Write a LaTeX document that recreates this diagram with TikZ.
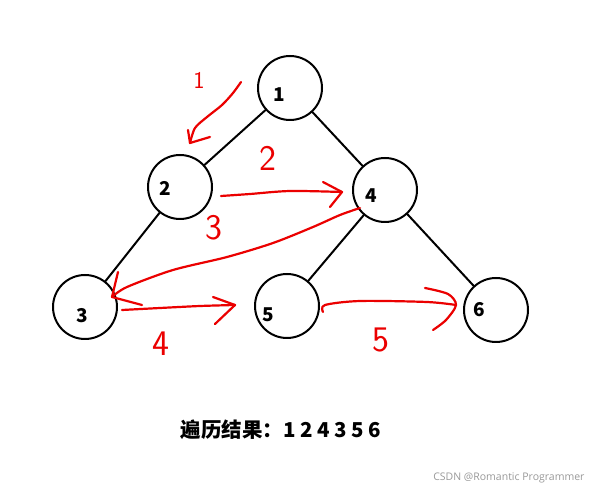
\documentclass[tikz,border=0pt]{standalone}
\usepackage{fontspec}
\newfontfamily\cjk{Noto Sans CJK SC}
\newfontfamily\wmfont{Open Sans}
\begin{document}
\begin{tikzpicture}[x=1pt,y=-1pt,line join=round,line cap=round]
  \tikzset{vertex/.style={draw, circle, line width=2pt, minimum size=64pt, inner sep=0pt},
           num/.style={font=\cjk\bfseries\fontsize{19}{19}\selectfont},
           redpen/.style={draw=red!92!black, line width=2.2pt},
           step label/.style={text=red!92!black, font=\sffamily\fontsize{36}{36}\selectfont}}
  \useasboundingbox[fill=white] (0,0) rectangle (603,494);
  % tree
  \node[vertex] (n1) at (290,88) {};
  \node[vertex] (n2) at (180,187) {};
  \node[vertex] (n4) at (385,190) {};
  \node[vertex] (n3) at (85,307) {};
  \node[vertex] (n5) at (287,306) {};
  \node[vertex] (n6) at (496,310) {};
  \node[num] (t1) at (279,95) {1};
  \node[num] (t2) at (165,188) {2};
  \node[num] (t4) at (371,196) {4};
  \node[num] (t3) at (82,316) {3};
  \node[num] (t5) at (268,315) {5};
  \node[num] (t6) at (479,310) {6};
  \draw[line width=2pt] (n1) -- (n2);
  \draw[line width=2pt] (n1) -- (n4);
  \draw[line width=2pt] (n2) -- (n3);
  \draw[line width=2pt] (n4) -- (n5);
  \draw[line width=2pt] (n4) -- (n6);
  % visiting order
  \coordinate (a1e) at (190,143);
  \coordinate (a2e) at (342,192);
  \coordinate (a3e) at (112,297);
  \coordinate (a4e) at (235,305);
  \coordinate (a5e) at (456,305);
  \draw[redpen] plot[smooth] coordinates {(241,82) (233,93) (222,105) (207,117) (195,128) (a1e)};
  \draw[redpen] (a1e) ++(-2,-13) -- (a1e) -- ++(20,-6);
  \draw[redpen] plot[smooth] coordinates {(221,196) (250,194) (290,191) (a2e)};
  \draw[redpen] (a2e) ++(-19,-10) -- (a2e) -- ++(-12,15);
  \draw[redpen] plot[smooth] coordinates {(360,208) (340,215) (313,227) (273,243) (227,257) (173,270) (127,287) (a3e)};
  \draw[redpen] (a3e) ++(6,-25) -- (a3e) -- ++(30,8);
  \draw[redpen] plot[smooth] coordinates {(122,310) (160,308) (200,306) (a4e)};
  \draw[redpen] (a4e) ++(-22,-8) -- (a4e) -- ++(-20,19);
  \draw[redpen] plot[smooth] coordinates {(323,312) (325,305) (360,301) (427,302) (a5e)};
  \draw[redpen] plot[smooth] coordinates {(425,288) (448,294) (456,305) (446,320) (433,330)};
  \node[step label] (s1) at (199,80) {\fontsize{24}{24}\selectfont 1};
  \node[step label] (s2) at (268,158) {2};
  \node[step label] (s3) at (214,228) {3};
  \node[step label] (s4) at (161,344) {4};
  \node[step label] (s5) at (381,340) {5};
  % result
  \node[font=\cjk\bfseries\fontsize{20.5}{20.5}\selectfont] (result) at (281,430) {遍历结果：1 2 4 3 5 6};
  \node[font=\wmfont\fontsize{10.5}{10.5}\selectfont, text=gray!80, anchor=east] (mark) at (588,478) {CSDN @Romantic Programmer};
\end{tikzpicture}
\end{document}
